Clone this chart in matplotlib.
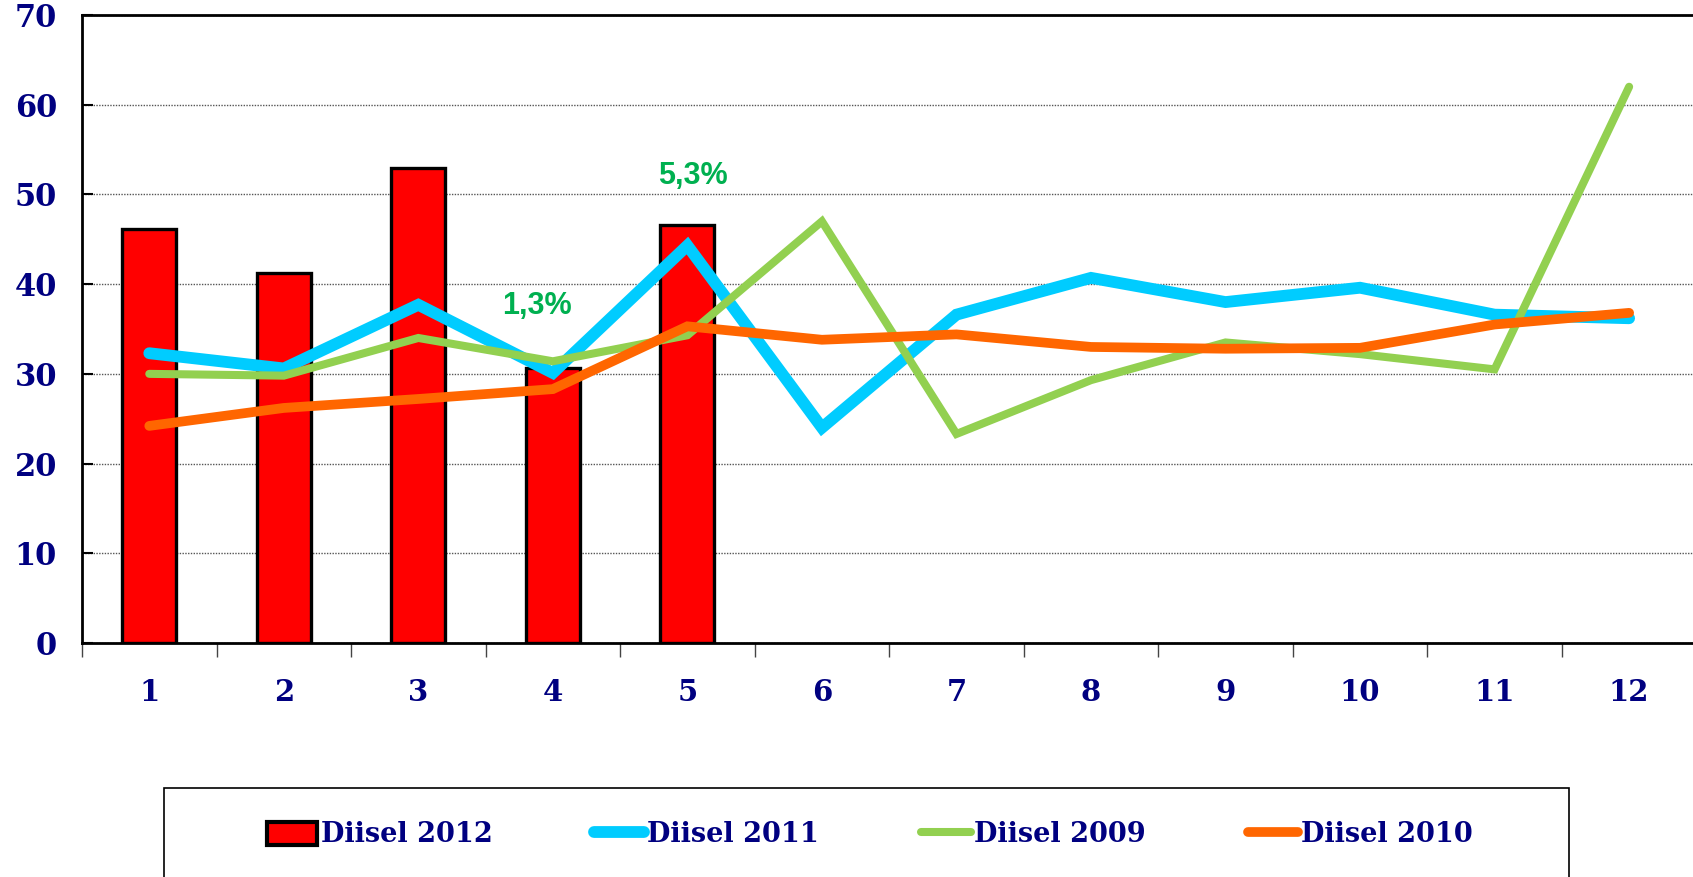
import matplotlib
matplotlib.use("Agg")
import matplotlib.pyplot as plt
from matplotlib.lines import Line2D
from matplotlib.patches import Patch, Rectangle

# data
months = list(range(1, 13))
diisel_2012 = [46.2, 41.2, 53.0, 30.6, 46.6]
diisel_2011 = [32.3, 30.6, 37.7, 30.1, 44.3, 24.0, 36.6, 40.7, 38.0, 39.6, 36.6, 36.2]
diisel_2009 = [30.0, 29.8, 34.0, 31.4, 34.3, 47.0, 23.3, 29.3, 33.5, 32.2, 30.5, 62.0]
diisel_2010 = [24.2, 26.2, 27.2, 28.3, 35.3, 33.8, 34.4, 33.0, 32.8, 32.9, 35.5, 36.8]
annot_text = ["1,3%", "5,3%"]
annot_x = [3.88, 5.04]
annot_y = [37.6, 52.1]

navy = "#000080"
c_red = "#FF0000"
c_blue = "#00CCFF"
c_green = "#92D050"
c_orange = "#FF6600"

W, H = 1693, 877
fig = plt.figure(figsize=(W / 100, H / 100), dpi=100)
ax = fig.add_axes([82 / W, 1 - 643 / H, 1 - 82 / W + 0.002, (643 - 15) / H])

ax.bar(months[:len(diisel_2012)], diisel_2012, width=0.4, color=c_red,
       edgecolor="black", linewidth=2.4, zorder=2)
ax.plot(months, diisel_2011, color=c_blue, lw=8.5, solid_capstyle="round",
        solid_joinstyle="miter", zorder=3)
ax.plot(months, diisel_2009, color=c_green, lw=5.8, solid_capstyle="round",
        solid_joinstyle="miter", zorder=4)
ax.plot(months, diisel_2010, color=c_orange, lw=7, solid_capstyle="round",
        solid_joinstyle="miter", zorder=5)

for t, x, y in zip(annot_text, annot_x, annot_y):
    ax.text(x, y, t, color="#00B050", fontsize=22, fontweight="bold",
            family="Liberation Sans", ha="center", va="center", zorder=6)

ax.set_xlim(0.5, 12.5)
ax.set_ylim(0, 70)
ax.set_yticks(range(0, 80, 10))
ax.set_xticks(months)
ax.set_xticks([m + 0.5 for m in range(0, 13)], minor=True)
ax.tick_params(axis="x", which="major", length=0, pad=25, labelsize=21,
               labelcolor=navy)
ax.tick_params(axis="x", which="minor", length=10, width=1, direction="out",
               color="#444444")
ax.tick_params(axis="y", length=8, width=1.5, direction="in", pad=18,
               labelsize=22, labelcolor=navy)
for lab in ax.get_xticklabels() + ax.get_yticklabels():
    lab.set_family("DejaVu Serif")
    lab.set_fontweight("bold")

ax.yaxis.grid(True, linestyle=(0, (1, 1)), color="#555555", linewidth=1)
ax.set_axisbelow(True)
for side in ["left", "bottom", "top"]:
    ax.spines[side].set_linewidth(2)
    ax.spines[side].set_color("black")
ax.spines["right"].set_visible(False)

# legend box running off the bottom edge
fig.patches.append(Rectangle((164 / W, -0.05), (1569 - 164) / W, 0.05 + 1 - 788 / H,
                             transform=fig.transFigure, fill=False,
                             edgecolor="black", linewidth=1.2))
handles = [
    Patch(facecolor=c_red, edgecolor="black", linewidth=3),
    Line2D([], [], color=c_blue, lw=8.5, solid_capstyle="round"),
    Line2D([], [], color=c_green, lw=5.8, solid_capstyle="round"),
    Line2D([], [], color=c_orange, lw=7, solid_capstyle="round"),
]
labels = ["Diisel 2012", "Diisel 2011", "Diisel 2009", "Diisel 2010"]
leg = fig.legend(handles, labels, loc="center", bbox_to_anchor=(870 / W, 1 - 835 / H),
                 ncol=4, frameon=False, handlelength=1.85, handleheight=0.95,
                 handletextpad=0.12, columnspacing=3.75,
                 prop={"family": "DejaVu Serif", "weight": "bold", "size": 19.5})
for t in leg.get_texts():
    t.set_color(navy)

fig.savefig("out.png", dpi=100)
